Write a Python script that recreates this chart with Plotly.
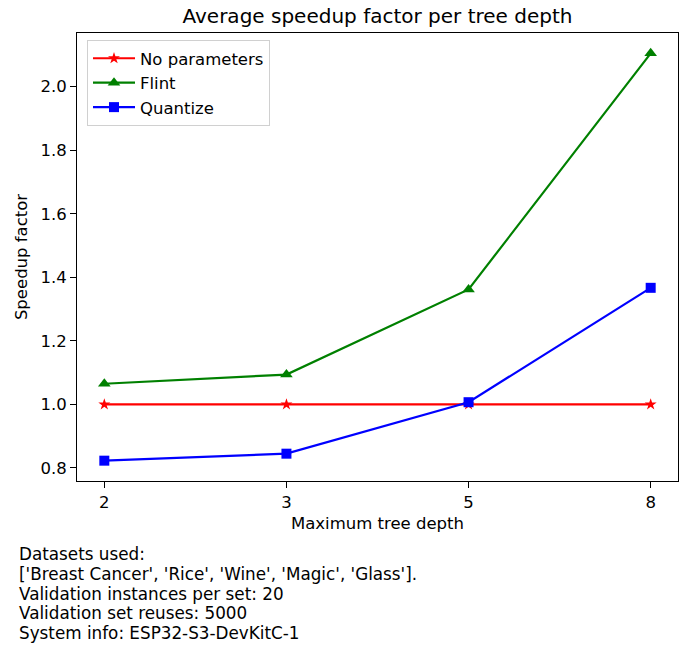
import plotly.graph_objects as go

depths = ["2", "3", "5", "8"]
no_params = [1.0, 1.0, 1.0, 1.0]
flint = [1.065, 1.094, 1.362, 2.105]
quantize = [0.823, 0.845, 1.007, 1.367]
info_lines = [
    "Datasets used:",
    "['Breast Cancer', 'Rice', 'Wine', 'Magic', 'Glass'].",
    "Validation instances per set: 20",
    "Validation set reuses: 5000",
    "System info: ESP32-S3-DevKitC-1",
]

W, H = 688, 646
L, R, T, B = 77, 10, 33, 165
pw, ph = W - L - R, H - T - B
FS = 16.5

fig = go.Figure()
fig.add_trace(go.Scatter(x=depths, y=no_params, name="No parameters", mode="lines+markers",
                         legendgroup="a",
                         line=dict(color="red", width=2.2),
                         marker=dict(symbol="star", size=9, color="red")))
fig.add_trace(go.Scatter(x=depths, y=flint, name="Flint", mode="lines+markers",
                         legendgroup="b",
                         line=dict(color="green", width=2.2),
                         marker=dict(symbol="triangle-up", size=11, color="green")))
fig.add_trace(go.Scatter(x=depths, y=quantize, name="Quantize", mode="lines+markers",
                         legendgroup="c",
                         line=dict(color="blue", width=2.2),
                         marker=dict(symbol="square", size=10, color="blue")))

font = "DejaVu Sans, sans-serif"
for i, line in enumerate(info_lines):
    py = 554 + i * 19.8
    fig.add_annotation(text=line, xref="paper", yref="paper",
                       x=(17 - L) / pw, y=(H - B - py) / ph,
                       xanchor="left", yanchor="middle", showarrow=False,
                       font=dict(family=font, size=16.8, color="black"))

fig.update_layout(
    width=W, height=H,
    margin=dict(l=L, r=R, t=T, b=B),
    paper_bgcolor="white", plot_bgcolor="white",
    font=dict(family=font, size=FS, color="black"),
    title=dict(text="Average speedup factor per tree depth", x=(L + pw / 2) / W, xanchor="center",
               y=1 - 16 / H, yanchor="middle", yref="container",
               font=dict(family=font, size=20, color="black")),
    showlegend=True,
    legend=dict(x=(87 - L) / pw, y=1 - (40 - T) / ph, xanchor="left", yanchor="top",
                bgcolor="white", bordercolor="#d0d0d0", borderwidth=1,
                traceorder="grouped", tracegroupgap=0, itemwidth=42,
                font=dict(family=font, size=FS)),
    xaxis=dict(type="category", range=[-0.15, 3.15], showline=True, linecolor="black",
               linewidth=1, mirror=True, ticks="outside", ticklen=6, tickcolor="black",
               showgrid=False, zeroline=False, tickfont=dict(size=FS),
               title=dict(text="Maximum tree depth", font=dict(size=FS), standoff=6)),
    yaxis=dict(range=[0.759, 2.169], showline=True, linecolor="black", linewidth=1,
               mirror=True, ticks="outside", ticklen=6, tickcolor="black",
               showgrid=False, zeroline=False, tickvals=[0.8, 1.0, 1.2, 1.4, 1.6, 1.8, 2.0],
               tickformat=".1f", tickfont=dict(size=FS),
               title=dict(text="Speedup factor", font=dict(size=FS), standoff=8)),
)

fig.write_html("out.html")
